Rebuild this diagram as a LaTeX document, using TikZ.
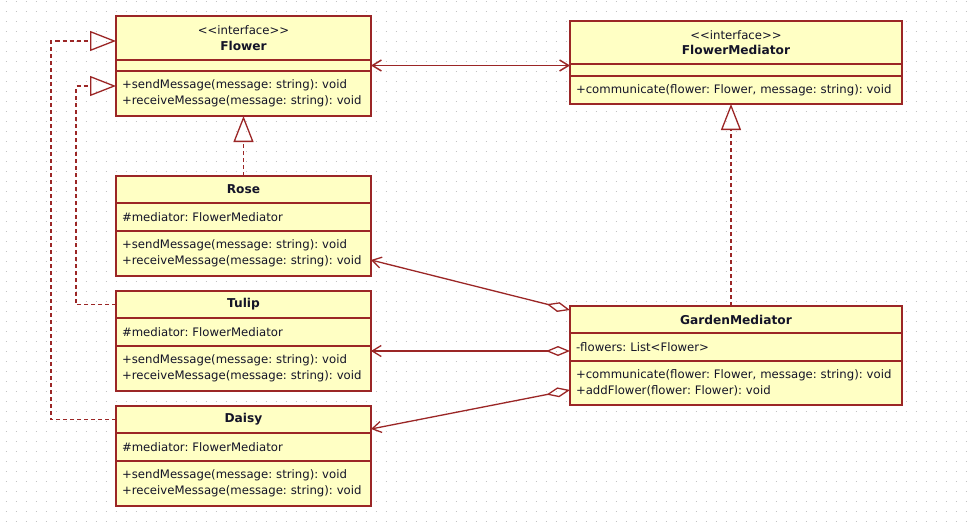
\documentclass[tikz,border=0pt]{standalone}
\usepackage{fontspec}
\setmainfont{DejaVu Sans}
\usetikzlibrary{positioning,arrows.meta}
\frenchspacing
\definecolor{umlred}{RGB}{155,38,38}
\definecolor{umlfill}{RGB}{255,255,196}
\definecolor{umltext}{RGB}{20,20,40}
\definecolor{dotgray}{RGB}{195,195,195}
\tikzset{
  clsbox/.style={draw=umlred, fill=umlfill, line width=1.4pt, outer sep=0pt,
    inner xsep=6pt, inner ysep=0pt, text=umltext, font=\fontsize{11.7}{15.5}\selectfont},
  clsnarrow/.style={clsbox, text width=243pt},
  clswide/.style={clsbox, text width=320pt},
  cname/.style={align=center, font=\fontsize{12.2}{15.5}\selectfont\bfseries},
  cbody/.style={align=left},
  realize/.style={umlred, line width=1.3pt, dash pattern=on 4pt off 3pt,
    -{Triangle[open, length=26pt, width=20pt]}},
  nav/.style={umlred, line width=1.5pt,
    {Straight Barb[length=9pt, width=11pt]}-{Straight Barb[length=9pt, width=11pt]}},
  aggr/.style={umlred, line width=1.3pt,
    {Diamond[open, length=24pt, width=10pt]}-{Straight Barb[length=9pt, width=11pt]}}
}
\begin{document}
\begin{tikzpicture}[x=1pt, y=-1pt]
\fill[white] (0,0) rectangle (970,525);
\useasboundingbox (0,0) rectangle (970,525);
\foreach \j in {0,...,52}
{
    \draw[dotgray, line width=1pt, dash pattern=on 1pt off 9pt] (5.5,\j*10+1)--(970,\j*10+1);
}

\node[clsnarrow, cname, minimum height=44pt, anchor=north west] (flowerN) at (116,16) {{\mdseries\fontsize{11.7}{15.5}\selectfont <{}<interface>{}>}\\Flower};
\node[clsnarrow, minimum height=11pt, below=0pt of flowerN] (flowerA) {};
\node[clsnarrow, cbody, minimum height=45pt, below=0pt of flowerA] (flowerM) {+sendMessage(message: string): void\\+receiveMessage(message: string): void};

\node[clswide, cname, minimum height=43pt, anchor=north west] (fmedN) at (570,21) {{\mdseries\fontsize{11.7}{15.5}\selectfont <{}<interface>{}>}\\FlowerMediator};
\node[clswide, minimum height=12pt, below=0pt of fmedN] (fmedA) {};
\node[clswide, cbody, minimum height=28pt, below=0pt of fmedA] (fmedM) {+communicate(flower: Flower, message: string): void};

\node[clsnarrow, cname, minimum height=27pt, anchor=north west] (roseN) at (116,176) {Rose};
\node[clsnarrow, cbody, minimum height=28pt, below=0pt of roseN] (roseA) {\#mediator: FlowerMediator};
\node[clsnarrow, cbody, minimum height=45pt, below=0pt of roseA] (roseM) {+sendMessage(message: string): void\\+receiveMessage(message: string): void};

\node[clsnarrow, cname, minimum height=27pt, anchor=north west] (tulipN) at (116,291) {Tulip};
\node[clsnarrow, cbody, minimum height=28pt, below=0pt of tulipN] (tulipA) {\#mediator: FlowerMediator};
\node[clsnarrow, cbody, minimum height=45pt, below=0pt of tulipA] (tulipM) {+sendMessage(message: string): void\\+receiveMessage(message: string): void};

\node[clsnarrow, cname, minimum height=27pt, anchor=north west] (daisyN) at (116,406) {Daisy};
\node[clsnarrow, cbody, minimum height=28pt, below=0pt of daisyN] (daisyA) {\#mediator: FlowerMediator};
\node[clsnarrow, cbody, minimum height=45pt, below=0pt of daisyA] (daisyM) {+sendMessage(message: string): void\\+receiveMessage(message: string): void};

\node[clswide, cname, minimum height=27pt, anchor=north west] (gardenN) at (570,306) {GardenMediator};
\node[clswide, cbody, minimum height=28pt, below=0pt of gardenN] (gardenA) {-flowers: List<Flower>};
\node[clswide, cbody, minimum height=44pt, below=0pt of gardenA] (gardenM) {+communicate(flower: Flower, message: string): void\\+addFlower(flower: Flower): void};

\draw[realize] (roseN.north)--(flowerM.south);
\draw[realize] (tulipN.west)--++(-40,0) |- ([yshift=7.5pt]flowerM.west);
\draw[realize] (daisyN.west)--++(-65,0) |- ([yshift=-3pt]flowerN.west);
\draw[realize] ([xshift=-5pt]gardenN.north)--([xshift=-5pt]fmedM.south);
\draw[nav] (flowerA.east)--(flowerA.east -| fmedA.west);
\draw[aggr] ([yshift=9.5pt]gardenN.west)--([yshift=-6.5pt]roseM.east);
\draw[aggr] ([yshift=-4pt]gardenA.west)--([yshift=-4pt]gardenA.west -| tulipM.east);
\draw[aggr] ([yshift=-7pt]gardenM.west)--([yshift=-9.5pt]daisyN.east);
\end{tikzpicture}
\end{document}
